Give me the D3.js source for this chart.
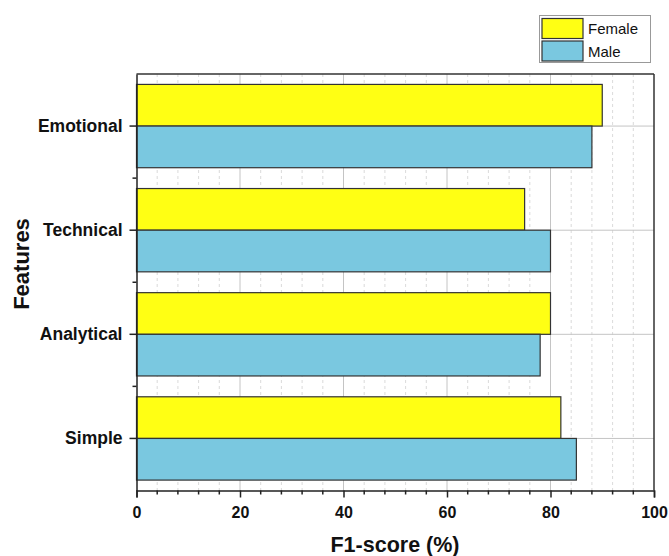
<!DOCTYPE html>
<html><head><meta charset="utf-8">
<script src="https://cdn.jsdelivr.net/npm/d3@7"></script>
<style>body{margin:0;background:#fff}svg{display:block}text{font-family:"Liberation Sans",Arial,sans-serif}</style>
</head><body><svg id="c" width="669" height="556"></svg>
<script>
const categories = ["Emotional","Technical","Analytical","Simple"];
const seriesNames = ["Female","Male"];
const female = [90,75,80,82];
const male = [88,80,78,85];
const xTicks = [0,20,40,60,80,100];
const colors = {Female:"#ffff14", Male:"#7ac8e0"};

const svg = d3.select("#c");
const L=136.5, R=654, T=74, B=490.5;
const x = d3.scaleLinear().domain([0,100]).range([L,R]);
const y = d3.scaleBand().domain(categories).range([T,B]).paddingInner(0.2).paddingOuter(0.1);
const bw = y.bandwidth()/2;

// grid
const minor = d3.range(0,101,4).filter(v=>v%20!==0);
svg.append("g").selectAll("line").data(minor).join("line")
  .attr("x1",d=>x(d)).attr("x2",d=>x(d)).attr("y1",T).attr("y2",B)
  .attr("stroke","#d0d0d0").attr("stroke-dasharray","3,3").attr("stroke-width",0.8);
svg.append("g").selectAll("line").data([20,40,60,80]).join("line")
  .attr("x1",d=>x(d)).attr("x2",d=>x(d)).attr("y1",T).attr("y2",B)
  .attr("stroke","#c4c4c4").attr("stroke-width",1);
svg.append("g").selectAll("line").data(categories).join("line")
  .attr("x1",L).attr("x2",R).attr("y1",d=>y(d)+bw).attr("y2",d=>y(d)+bw)
  .attr("stroke","#c4c4c4").attr("stroke-width",1);

// bars
const rows = categories.map((c,i)=>({c, Female:female[i], Male:male[i]}));
seriesNames.forEach((s,si)=>{
  svg.append("g").selectAll("rect").data(rows).join("rect")
    .attr("x",x(0)).attr("y",d=>y(d.c)+si*bw).attr("width",d=>x(d[s])-x(0)).attr("height",bw)
    .attr("fill",colors[s]).attr("stroke","#333").attr("stroke-width",1.2);
});

// frame
svg.append("line").attr("x1",L).attr("x2",R).attr("y1",T).attr("y2",T).attr("stroke","#333").attr("stroke-width",1.5);
svg.append("line").attr("x1",R).attr("x2",R).attr("y1",T).attr("y2",B).attr("stroke","#333").attr("stroke-width",1.5);

// x axis
const gx = svg.append("g").attr("transform",`translate(0,${B})`);
gx.call(d3.axisBottom(x).tickValues(xTicks).tickSize(7).tickPadding(9));
gx.append("g").selectAll("line").data(minor).join("line")
  .attr("x1",d=>x(d)).attr("x2",d=>x(d)).attr("y1",0).attr("y2",4).attr("stroke","#222").attr("stroke-width",1.5);
gx.select(".domain").attr("stroke","#222").attr("stroke-width",1.5);
gx.selectAll(".tick line").attr("stroke","#222").attr("stroke-width",1.5);
gx.selectAll(".tick text").attr("font-size",16).attr("font-weight","bold").attr("fill","#111");

// y axis
const gy = svg.append("g").attr("transform",`translate(${L},0)`);
gy.call(d3.axisLeft(y).tickSize(7).tickPadding(7).tickSizeOuter(0));
gy.selectAll(".tick").attr("transform",d=>`translate(0,${y(d)+bw})`);
gy.select(".domain").attr("stroke","#222").attr("stroke-width",1.5);
gy.selectAll(".tick line").attr("stroke","#222").attr("stroke-width",1.5);
gy.selectAll(".tick text").attr("font-size",17.5).attr("font-weight","bold").attr("fill","#111");
const yMinor = categories.slice(1).map(c=>y(c)-y.step()*y.paddingInner()/2);
gy.append("g").selectAll("line").data(yMinor).join("line")
  .attr("x1",-4).attr("x2",0).attr("y1",d=>d).attr("y2",d=>d).attr("stroke","#222").attr("stroke-width",1.5);

// titles
svg.append("text").attr("x",395).attr("y",552).attr("text-anchor","middle")
  .attr("font-size",21.5).attr("font-weight","bold").attr("fill","#111").text("F1-score (%)");
svg.append("text").attr("transform",`translate(29,264) rotate(-90)`).attr("text-anchor","middle")
  .attr("font-size",22).attr("font-weight","bold").attr("fill","#111").text("Features");

// legend
const lg = svg.append("g");
lg.append("rect").attr("x",539.5).attr("y",15.5).attr("width",111).attr("height",47)
  .attr("fill","#fff").attr("stroke","#999").attr("stroke-width",1);
seriesNames.forEach((s,i)=>{
  lg.append("rect").attr("x",542).attr("y",18.5+i*22.5).attr("width",41).attr("height",20)
    .attr("fill",colors[s]).attr("stroke","#333").attr("stroke-width",1.2);
  lg.append("text").attr("x",588).attr("y",34+i*22.5).attr("font-size",15).attr("fill","#111").text(s);
});
</script></body></html>
